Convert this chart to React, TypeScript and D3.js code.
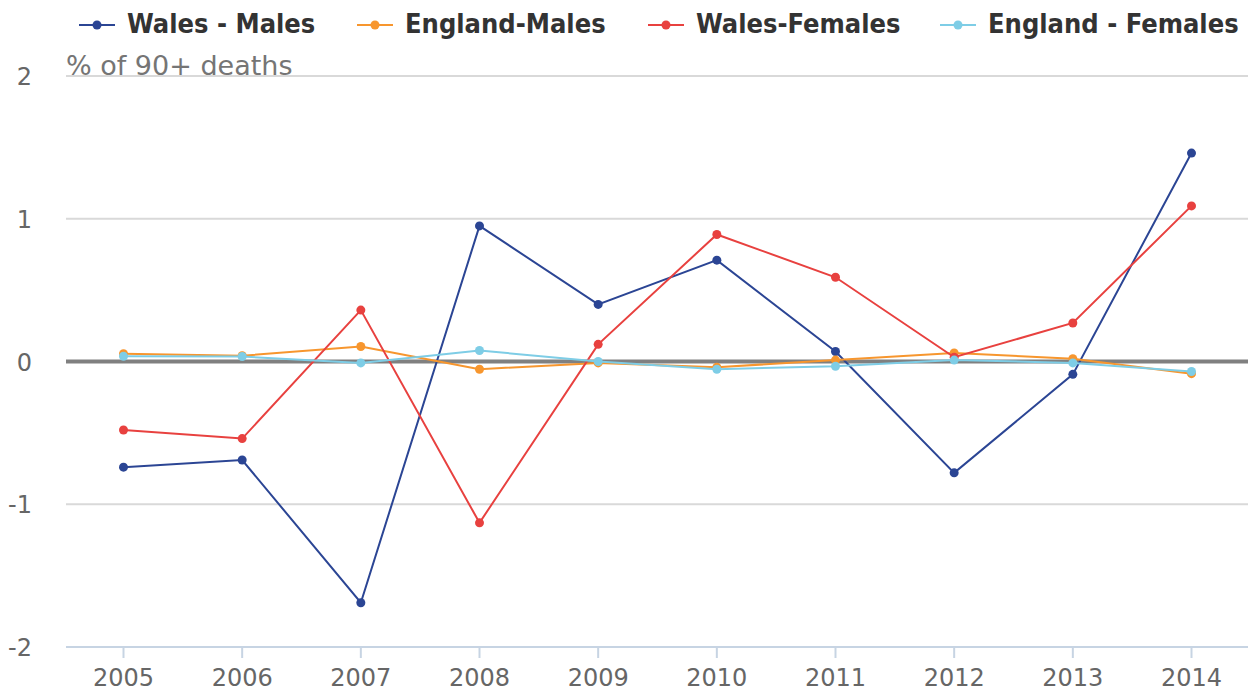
import * as d3 from 'd3'
import { useEffect, useRef } from 'react'

const years = ['2005', '2006', '2007', '2008', '2009', '2010', '2011', '2012', '2013', '2014']
const walesMales = [-0.74, -0.69, -1.69, 0.95, 0.40, 0.71, 0.07, -0.78, -0.09, 1.46]
const englandMales = [0.055, 0.04, 0.105, -0.054, -0.01, -0.04, 0.01, 0.06, 0.02, -0.085]
const walesFemales = [-0.48, -0.54, 0.36, -1.13, 0.12, 0.89, 0.59, 0.03, 0.27, 1.09]
const englandFemales = [0.037, 0.035, -0.01, 0.077, 0.0, -0.054, -0.033, 0.01, -0.01, -0.07]
const yTicks = [-2, -1, 0, 1, 2]

const series = [
  { name: 'Wales - Males', color: '#2b4594', values: walesMales },
  { name: 'England-Males', color: '#f7962e', values: englandMales },
  { name: 'Wales-Females', color: '#e8413f', values: walesFemales },
  { name: 'England - Females', color: '#7ecde6', values: englandFemales },
]

const FONT = '"DejaVu Sans", Verdana, sans-serif'

export default function App(){
  const svgRef = useRef<SVGSVGElement|null>(null)
  const width = 1248, height = 690

  useEffect(()=>{
    const svg = d3.select(svgRef.current)
    svg.selectAll('*').remove()

    const left = 66, right = 1248
    const x = d3.scalePoint<string>().domain(years).range([123.5, 1191.5])
    const y = d3.scaleLinear().domain([-2, 2]).range([647, 76])

    // grid
    svg.append('g').selectAll('line')
      .data(yTicks.filter(t => t !== 0 && t !== -2))
      .join('line')
      .attr('x1', left).attr('x2', right)
      .attr('y1', d => y(d)).attr('y2', d => y(d))
      .attr('stroke', '#d9d9d9').attr('stroke-width', 2)

    // y labels
    svg.append('g').selectAll('text')
      .data(yTicks)
      .join('text')
      .attr('x', 32).attr('y', d => y(d) + 9)
      .attr('text-anchor', 'end')
      .attr('font-family', FONT).attr('font-size', 24).attr('fill', '#666')
      .text(d => String(d))

    // x axis
    const xa = svg.append('g').attr('transform', `translate(0,${y(-2)})`)
    xa.append('line').attr('x1', left).attr('x2', right).attr('stroke', '#c7d4e3').attr('stroke-width', 2)
    xa.selectAll('line.tick').data(years).join('line').attr('class', 'tick')
      .attr('x1', d => x(d)!).attr('x2', d => x(d)!).attr('y1', 0).attr('y2', 11)
      .attr('stroke', '#c7d4e3').attr('stroke-width', 2)
    xa.selectAll('text').data(years).join('text')
      .attr('x', d => x(d)!).attr('y', 39)
      .attr('text-anchor', 'middle')
      .attr('font-family', FONT).attr('font-size', 24).attr('fill', '#666')
      .text(d => d)

    // zero line
    svg.append('line').attr('x1', left).attr('x2', right)
      .attr('y1', y(0)).attr('y2', y(0))
      .attr('stroke', '#808080').attr('stroke-width', 4)

    // y title
    svg.append('text').attr('x', 66).attr('y', 75)
      .attr('font-family', FONT).attr('font-size', 27).attr('fill', '#757575')
      .text('% of 90+ deaths')

    const line = d3.line<number>().x((_, i) => x(years[i])!).y(d => y(d))
    for(const s of series){
      const g = svg.append('g')
      g.append('path').attr('d', line(s.values)).attr('fill', 'none')
        .attr('stroke', s.color).attr('stroke-width', 2)
      g.selectAll('circle').data(s.values).join('circle')
        .attr('cx', (_, i) => x(years[i])!).attr('cy', d => y(d))
        .attr('r', 4.5).attr('fill', s.color)
    }

    // legend
    const legendX = [79, 357, 648, 940]
    series.forEach((s, i) => {
      const g = svg.append('g').attr('transform', `translate(${legendX[i]},25)`)
      g.append('line').attr('x1', 0).attr('x2', 36).attr('stroke', s.color).attr('stroke-width', 2)
      g.append('circle').attr('cx', 18).attr('r', 4.5).attr('fill', s.color)
      g.append('text').attr('x', 48).attr('y', 8)
        .attr('font-family', '"DejaVu Sans Condensed", "DejaVu Sans", sans-serif')
        .attr('font-stretch', 'condensed')
        .attr('font-size', 27).attr('font-weight', 'bold').attr('fill', '#333')
        .text(s.name)
    })
  }, [])

  return (
    <svg ref={svgRef} width={width} height={height} style={{ position: 'absolute', left: 0, top: 0, background: '#fff' }}></svg>
  )
}
